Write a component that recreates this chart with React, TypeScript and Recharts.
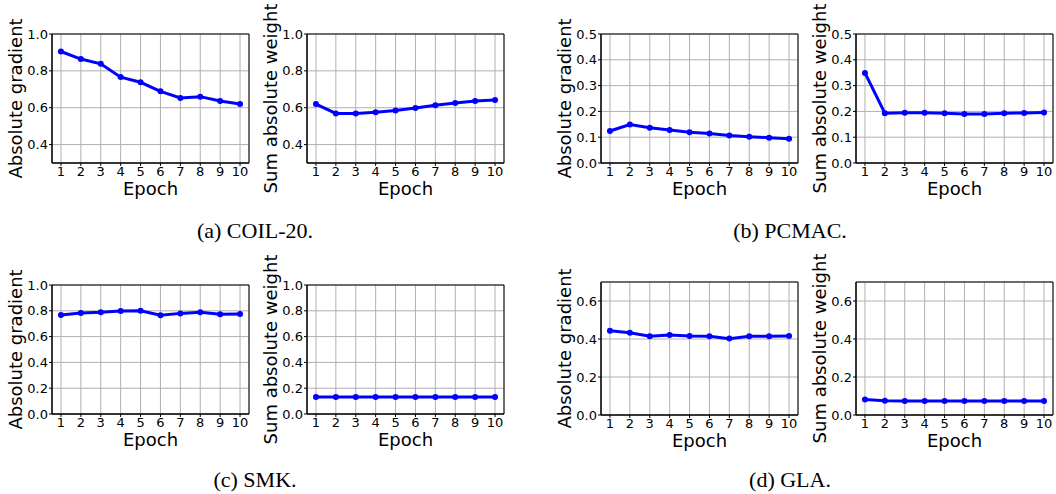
import React from "react"
import {
  LineChart,
  Line,
  XAxis,
  YAxis,
  CartesianGrid,
  ReferenceArea,
} from "recharts"

// epochs shared by every panel
const epochs = [1, 2, 3, 4, 5, 6, 7, 8, 9, 10]

// (a) COIL-20
const coilGradient = [0.905, 0.864, 0.838, 0.766, 0.738, 0.689, 0.653, 0.66, 0.636, 0.62]
const coilWeight = [0.62, 0.569, 0.569, 0.576, 0.585, 0.598, 0.613, 0.625, 0.637, 0.642]

// (b) PCMAC
const pcmacGradient = [0.124, 0.149, 0.137, 0.128, 0.119, 0.114, 0.107, 0.102, 0.098, 0.094]
const pcmacWeight = [0.349, 0.193, 0.195, 0.195, 0.193, 0.19, 0.19, 0.193, 0.194, 0.196]

// (c) SMK
const smkGradient = [0.767, 0.783, 0.788, 0.798, 0.801, 0.765, 0.78, 0.788, 0.773, 0.775]
const smkWeight = [0.131, 0.131, 0.131, 0.131, 0.131, 0.131, 0.131, 0.131, 0.131, 0.131]

// (d) GLA
const glaGradient = [0.444, 0.433, 0.414, 0.421, 0.416, 0.414, 0.402, 0.414, 0.414, 0.416]
const glaWeight = [0.081, 0.075, 0.074, 0.074, 0.074, 0.074, 0.074, 0.074, 0.074, 0.074]

// y tick labels
const ticksCoil = [0.4, 0.6, 0.8, 1.0]
const ticksPcmac = [0.0, 0.1, 0.2, 0.3, 0.4, 0.5]
const ticksSmk = [0.0, 0.2, 0.4, 0.6, 0.8, 1.0]
const ticksGla = [0.0, 0.2, 0.4, 0.6]

const captions = ["(a) COIL-20.", "(b) PCMAC.", "(c) SMK.", "(d) GLA."]

const FONT = "DejaVu Sans"
const BLUE = "#0000ff"
const X_DOMAIN: [number, number] = [0.55, 10.45]

interface PanelProps {
  values: number[]
  yDomain: [number, number]
  yTicks: number[]
  yLabel: string
  left: number
  top: number
  plotHeight: number
}

function Panel({ values, yDomain, yTicks, yLabel, left, top, plotHeight }: PanelProps) {
  const data = epochs.map((e, i) => ({ epoch: e, value: values[i] }))
  const fmt = (v: number) => v.toFixed(1)

  return (
    <div style={{ position: "absolute", left: left - 52, top: top - 34 }}>
      <LineChart
        width={52 + 197 + 4}
        height={34 + plotHeight + 40}
        data={data}
        margin={{ top: 34, right: 4, bottom: 0, left: 0 }}
      >
        <CartesianGrid stroke="#b0b0b0" strokeWidth={1} />
        <XAxis
          dataKey="epoch"
          type="number"
          domain={X_DOMAIN}
          ticks={epochs}
          allowDataOverflow
          height={40}
          tickSize={3}
          tickMargin={1}
          axisLine={{ stroke: "#000" }}
          tickLine={{ stroke: "#000" }}
          tick={{ fontSize: 13, fill: "#000", fontFamily: FONT }}
          label={{
            value: "Epoch",
            position: "insideBottom",
            offset: 8,
            style: { fontSize: 18, fill: "#000", fontFamily: FONT },
          }}
        />
        <YAxis
          type="number"
          domain={yDomain}
          ticks={yTicks}
          allowDataOverflow
          width={52}
          tickSize={3}
          tickMargin={1}
          tickFormatter={fmt}
          axisLine={{ stroke: "#000" }}
          tickLine={{ stroke: "#000" }}
          tick={{ fontSize: 13, fill: "#000", fontFamily: FONT }}
          label={{
            value: yLabel,
            angle: -90,
            position: "insideLeft",
            offset: 16,
            style: { fontSize: 18, fill: "#000", fontFamily: FONT, textAnchor: "middle" },
          }}
        />
        <ReferenceArea
          x1={X_DOMAIN[0]}
          x2={X_DOMAIN[1]}
          y1={yDomain[0]}
          y2={yDomain[1]}
          fill="none"
          stroke="#000"
          strokeWidth={1}
          fillOpacity={0}
        />
        <Line
          type="linear"
          dataKey="value"
          stroke={BLUE}
          strokeWidth={3}
          dot={{ r: 3, fill: BLUE, stroke: BLUE, strokeWidth: 0 }}
          isAnimationActive={false}
        />
      </LineChart>
    </div>
  )
}

const captionStyle: React.CSSProperties = {
  position: "absolute",
  width: 400,
  textAlign: "center",
  fontFamily: "Liberation Serif",
  fontSize: 22,
  color: "#000",
  lineHeight: "22px",
}

export default function App() {
  return (
    <div
      style={{
        position: "absolute",
        left: 0,
        top: 0,
        width: 1056,
        height: 494,
        background: "#fff",
        overflow: "hidden",
      }}
    >
      <Panel values={coilGradient} yDomain={[0.3, 1.0]} yTicks={ticksCoil} yLabel="Absolute gradient" left={52} top={34} plotHeight={129} />
      <Panel values={coilWeight} yDomain={[0.3, 1.0]} yTicks={ticksCoil} yLabel="Sum absolute weight" left={307} top={34} plotHeight={129} />
      <Panel values={pcmacGradient} yDomain={[0, 0.5]} yTicks={ticksPcmac} yLabel="Absolute gradient" left={601} top={34} plotHeight={129} />
      <Panel values={pcmacWeight} yDomain={[0, 0.5]} yTicks={ticksPcmac} yLabel="Sum absolute weight" left={856} top={34} plotHeight={129} />

      <Panel values={smkGradient} yDomain={[0, 1.0]} yTicks={ticksSmk} yLabel="Absolute gradient" left={52} top={285} plotHeight={129} />
      <Panel values={smkWeight} yDomain={[0, 1.0]} yTicks={ticksSmk} yLabel="Sum absolute weight" left={307} top={285} plotHeight={129} />
      <Panel values={glaGradient} yDomain={[0, 0.7]} yTicks={ticksGla} yLabel="Absolute gradient" left={601} top={282} plotHeight={133} />
      <Panel values={glaWeight} yDomain={[0, 0.7]} yTicks={ticksGla} yLabel="Sum absolute weight" left={856} top={282} plotHeight={133} />

      <div style={{ ...captionStyle, left: 255 - 200, top: 220 }}>{captions[0]}</div>
      <div style={{ ...captionStyle, left: 790 - 200, top: 220 }}>{captions[1]}</div>
      <div style={{ ...captionStyle, left: 255 - 200, top: 469 }}>{captions[2]}</div>
      <div style={{ ...captionStyle, left: 790 - 200, top: 469 }}>{captions[3]}</div>
    </div>
  )
}
